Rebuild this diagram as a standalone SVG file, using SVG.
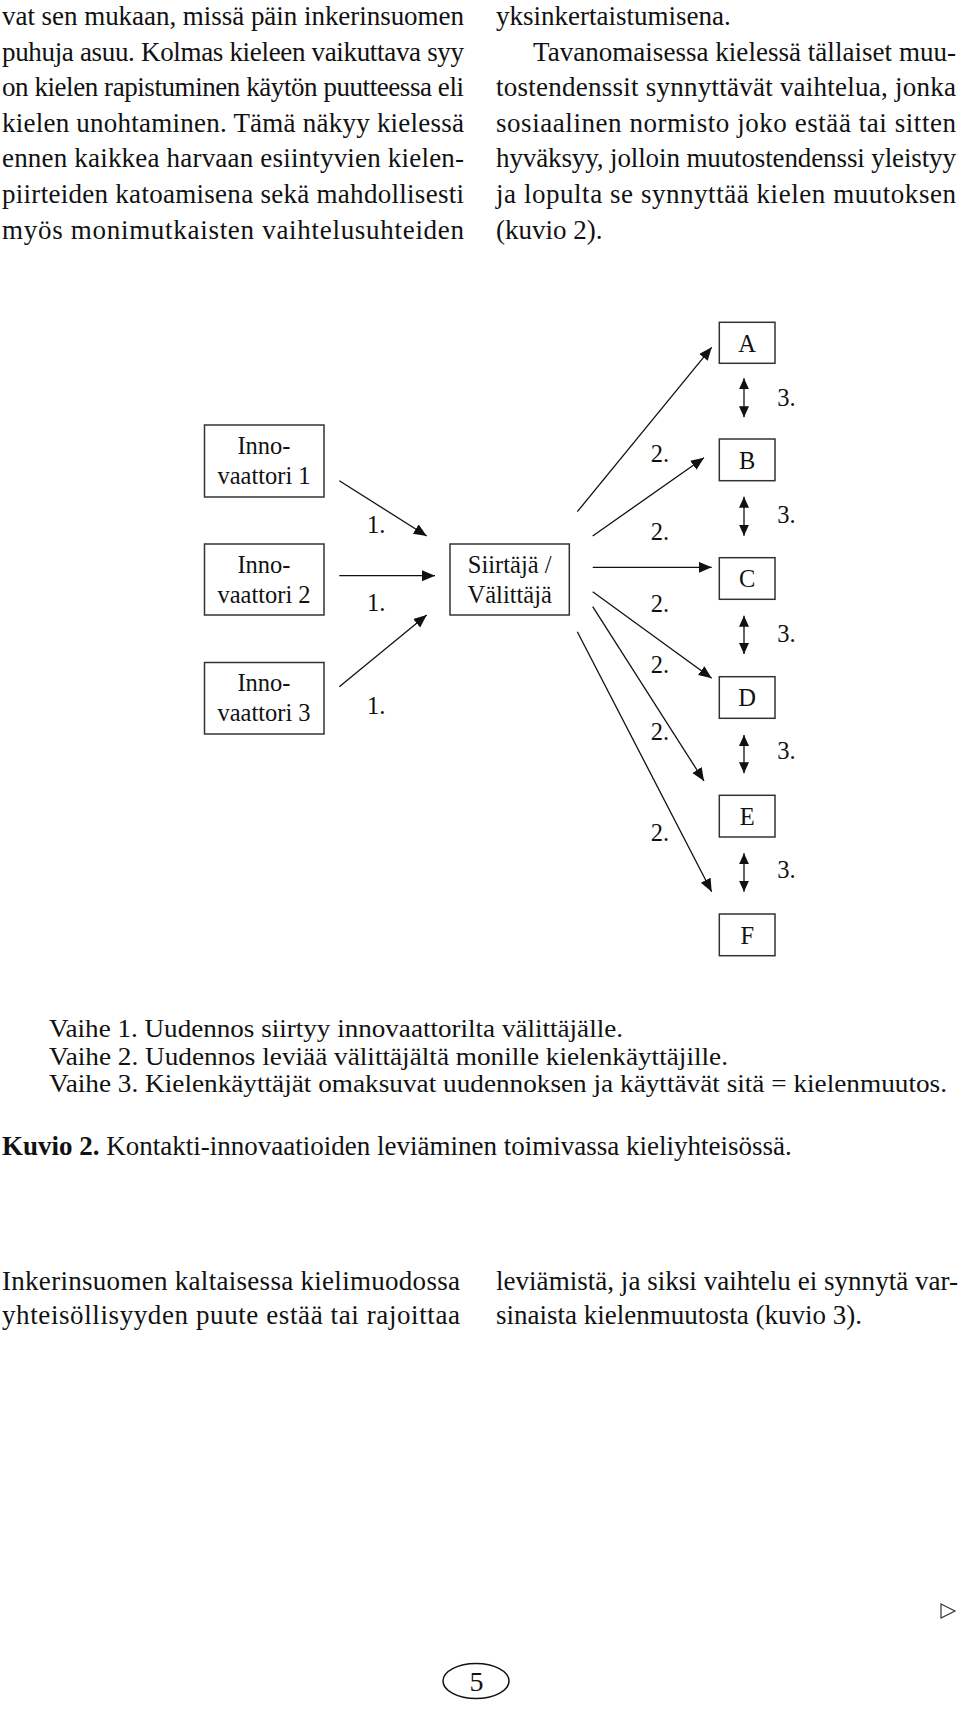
<svg xmlns="http://www.w3.org/2000/svg" width="960" height="1711" viewBox="0 0 960 1711">
  <style>
    .body { font-family: "Liberation Serif", "Times New Roman", serif; font-size: 27px; fill: #111; }
    .cap { font-family: "Liberation Serif", "Times New Roman", serif; font-size: 24.5px; fill: #111; }
    .lbl { font-family: "Liberation Serif", "Times New Roman", serif; font-size: 24.5px; fill: #111; }
    .mid { text-anchor: middle; }
    .box { fill: #fff; stroke: #333; stroke-width: 1.5; }
    .conn { stroke: #111; stroke-width: 1.3; fill: none; }
    .arr { marker-end: url(#head); }
    .dbl { marker-start: url(#shead); marker-end: url(#shead); }
  </style>
  <defs>
    <marker id="head" markerUnits="userSpaceOnUse" markerWidth="14" markerHeight="12" refX="13" refY="5.5" orient="auto">
      <path d="M0,0 L13,5.5 L0,11 z" fill="#111"/>
    </marker>
    <marker id="shead" markerUnits="userSpaceOnUse" markerWidth="12" markerHeight="11" refX="11" refY="5" orient="auto-start-reverse">
      <path d="M0,0 L11,5 L0,10 z" fill="#111"/>
    </marker>
  </defs>
  <rect width="960" height="1711" fill="#fff"/>

  <g id="top-text" class="body">
    <text x="2" y="25" textLength="462" lengthAdjust="spacing">vat sen mukaan, missä päin inkerinsuomen</text>
    <text x="2" y="60.6" textLength="462" lengthAdjust="spacing">puhuja asuu. Kolmas kieleen vaikuttava syy</text>
    <text x="2" y="96.2" textLength="462" lengthAdjust="spacing">on kielen rapistuminen käytön puutteessa eli</text>
    <text x="2" y="131.8" textLength="462" lengthAdjust="spacing">kielen unohtaminen. Tämä näkyy kielessä</text>
    <text x="2" y="167.4" textLength="462" lengthAdjust="spacing">ennen kaikkea harvaan esiintyvien kielen-</text>
    <text x="2" y="203" textLength="462" lengthAdjust="spacing">piirteiden katoamisena sekä mahdollisesti</text>
    <text x="2" y="238.6" textLength="462" lengthAdjust="spacing">myös monimutkaisten vaihtelusuhteiden</text>

    <text x="496" y="25">yksinkertaistumisena.</text>
    <text x="533" y="60.6" textLength="423" lengthAdjust="spacing">Tavanomaisessa kielessä tällaiset muu-</text>
    <text x="496" y="96.2" textLength="460" lengthAdjust="spacing">tostendenssit synnyttävät vaihtelua, jonka</text>
    <text x="496" y="131.8" textLength="460" lengthAdjust="spacing">sosiaalinen normisto joko estää tai sitten</text>
    <text x="496" y="167.4" textLength="460" lengthAdjust="spacing">hyväksyy, jolloin muutostendenssi yleistyy</text>
    <text x="496" y="203" textLength="460" lengthAdjust="spacing">ja lopulta se synnyttää kielen muutoksen</text>
    <text x="496" y="238.6">(kuvio 2).</text>
  </g>

  <g id="connectors">
    <line class="conn arr" x1="339.3" y1="480.7" x2="426.7" y2="536"/>
    <line class="conn arr" x1="339.3" y1="575.7" x2="435" y2="575.7"/>
    <line class="conn arr" x1="339.3" y1="686.7" x2="426.7" y2="615"/>

    <line class="conn arr" x1="577.3" y1="511.7" x2="711.7" y2="347.3"/>
    <line class="conn arr" x1="592.7" y1="536" x2="704" y2="457.7"/>
    <line class="conn arr" x1="592.7" y1="567.3" x2="711.7" y2="567.3"/>
    <line class="conn arr" x1="592.7" y1="591.7" x2="711.7" y2="678.3"/>
    <line class="conn arr" x1="592.7" y1="606.7" x2="704" y2="781"/>
    <line class="conn arr" x1="577.3" y1="631.7" x2="711.7" y2="891.7"/>

    <line class="conn dbl" x1="744" y1="378.3" x2="744" y2="417.3"/>
    <line class="conn dbl" x1="744" y1="496.7" x2="744" y2="535.7"/>
    <line class="conn dbl" x1="744" y1="615.7" x2="744" y2="654"/>
    <line class="conn dbl" x1="744" y1="735" x2="744" y2="773.3"/>
    <line class="conn dbl" x1="744" y1="853.3" x2="744" y2="891.7"/>

    <g class="lbl">
      <text x="367" y="532.7">1.</text>
      <text x="367" y="611">1.</text>
      <text x="367" y="714.3">1.</text>
      <text x="650.7" y="462">2.</text>
      <text x="650.7" y="540">2.</text>
      <text x="650.7" y="612">2.</text>
      <text x="650.7" y="673">2.</text>
      <text x="650.7" y="740">2.</text>
      <text x="650.7" y="840.7">2.</text>
      <text x="777.3" y="405.7">3.</text>
      <text x="777.3" y="523.3">3.</text>
      <text x="777.3" y="641.7">3.</text>
      <text x="777.3" y="759.3">3.</text>
      <text x="777.3" y="878.3">3.</text>
    </g>
  </g>

  <g id="node-inno1">
    <rect class="box" x="204.5" y="425" width="119.5" height="72"/>
    <text class="lbl mid" x="264" y="454">Inno-</text>
    <text class="lbl mid" x="264" y="484">vaattori 1</text>
  </g>
  <g id="node-inno2">
    <rect class="box" x="204.5" y="544" width="119.5" height="71"/>
    <text class="lbl mid" x="264" y="572.7">Inno-</text>
    <text class="lbl mid" x="264" y="602.7">vaattori 2</text>
  </g>
  <g id="node-inno3">
    <rect class="box" x="204.5" y="662.5" width="119.5" height="71.5"/>
    <text class="lbl mid" x="264" y="691">Inno-</text>
    <text class="lbl mid" x="264" y="720.7">vaattori 3</text>
  </g>
  <g id="node-siirtaja">
    <rect class="box" x="450" y="544" width="119.3" height="71"/>
    <text class="lbl mid" x="509.7" y="573">Siirtäjä /</text>
    <text class="lbl mid" x="509.7" y="602.7">Välittäjä</text>
  </g>
  <g id="node-A">
    <rect class="box" x="719.3" y="322.3" width="55.7" height="41"/>
    <text class="lbl mid" x="747.2" y="351.5">A</text>
  </g>
  <g id="node-B">
    <rect class="box" x="719.3" y="439" width="55.7" height="41.7"/>
    <text class="lbl mid" x="747.2" y="468.5">B</text>
  </g>
  <g id="node-C">
    <rect class="box" x="719.3" y="557.7" width="55.7" height="41.6"/>
    <text class="lbl mid" x="747.2" y="587.3">C</text>
  </g>
  <g id="node-D">
    <rect class="box" x="719.3" y="676.7" width="55.7" height="41.6"/>
    <text class="lbl mid" x="747.2" y="706.3">D</text>
  </g>
  <g id="node-E">
    <rect class="box" x="719.3" y="795.3" width="55.7" height="41.7"/>
    <text class="lbl mid" x="747.2" y="825">E</text>
  </g>
  <g id="node-F">
    <rect class="box" x="719.3" y="914" width="55.7" height="41.7"/>
    <text class="lbl mid" x="747.2" y="943.6">F</text>
  </g>

  <g id="caption">
    <text class="cap" x="49" y="1037" textLength="574" lengthAdjust="spacingAndGlyphs">Vaihe 1. Uudennos siirtyy innovaattorilta välittäjälle.</text>
    <text class="cap" x="49" y="1064.5" textLength="679" lengthAdjust="spacingAndGlyphs">Vaihe 2. Uudennos leviää välittäjältä monille kielenkäyttäjille.</text>
    <text class="cap" x="49" y="1092" textLength="898" lengthAdjust="spacingAndGlyphs">Vaihe 3. Kielenkäyttäjät omaksuvat uudennoksen ja käyttävät sitä = kielenmuutos.</text>
    <text class="body" x="2" y="1155"><tspan font-weight="bold">Kuvio 2.</tspan> Kontakti-innovaatioiden leviäminen toimivassa kieliyhteisössä.</text>
  </g>

  <g id="bottom-text" class="body">
    <text x="2" y="1290" textLength="458" lengthAdjust="spacing">Inkerinsuomen kaltaisessa kielimuodossa</text>
    <text x="2" y="1324" textLength="458" lengthAdjust="spacing">yhteisöllisyyden puute estää tai rajoittaa</text>
    <text x="496" y="1290" textLength="462" lengthAdjust="spacing">leviämistä, ja siksi vaihtelu ei synnytä var-</text>
    <text x="496" y="1324">sinaista kielenmuutosta (kuvio 3).</text>
  </g>

  <g id="page-marks">
    <polygon points="941,1604 955,1611 941,1618" fill="none" stroke="#333" stroke-width="1.2"/>
    <ellipse cx="476" cy="1681" rx="33" ry="17.5" fill="none" stroke="#111" stroke-width="1.5"/>
    <text class="mid" x="476.5" y="1690.5" font-family="Liberation Serif, serif" font-size="28" fill="#111">5</text>
  </g>
</svg>
